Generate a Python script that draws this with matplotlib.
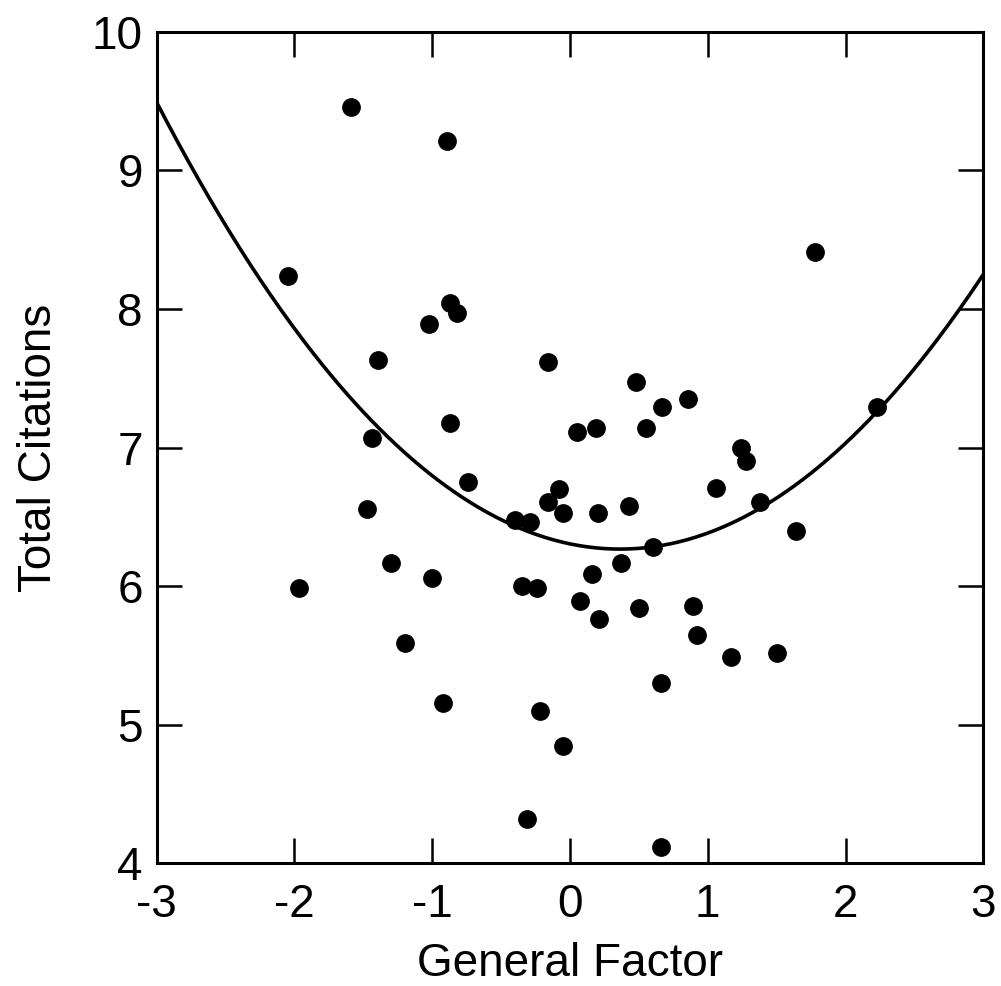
import numpy as np
import matplotlib
matplotlib.use("Agg")
import matplotlib.pyplot as plt

plt.rcParams['font.family'] = ['Liberation Sans', 'DejaVu Sans']
plt.rcParams['axes.unicode_minus'] = False

# Data
general_factor = [
    -1.59, -0.89, -2.05, 1.78, -0.87, -0.82, -1.02, -1.39, -0.16, 0.48,
    0.67, 0.86, 2.23, -0.87, 0.05, 0.19, 0.55, -1.44, 1.24, 1.28,
    -0.74, 1.06, 1.38, -1.47, -0.40, -0.29, -0.08, -0.16, -0.05, 0.20,
    0.43, 1.64, 0.60, 0.37, 0.16, -0.35, -0.24, -1.97, 0.07, 0.21,
    0.50, 0.89, 0.92, 1.17, 1.50, 0.66, -0.22, -0.05, -0.31, 0.66,
    -1.30, -1.00, -1.20, -0.92,
]
total_citations = [
    9.46, 9.21, 8.24, 8.41, 8.04, 7.97, 7.89, 7.63, 7.62, 7.47,
    7.29, 7.35, 7.29, 7.18, 7.11, 7.14, 7.14, 7.07, 7.00, 6.90,
    6.75, 6.71, 6.61, 6.56, 6.48, 6.46, 6.70, 6.61, 6.53, 6.53,
    6.58, 6.40, 6.28, 6.17, 6.09, 6.00, 5.99, 5.99, 5.89, 5.76,
    5.84, 5.86, 5.65, 5.49, 5.52, 5.30, 5.10, 4.85, 4.32, 4.12,
    6.17, 6.06, 5.59, 5.16,
]
# quadratic fit coefficients (a, b, c) for y = a x^2 + b x + c
fit_coef = [0.285, -0.207, 6.305]

x_ticks = [-3, -2, -1, 0, 1, 2, 3]
y_ticks = [4, 5, 6, 7, 8, 9, 10]

fig = plt.figure(figsize=(10.01, 9.86), dpi=100)
ax = fig.add_axes([0.1565, 0.1244, 0.8258, 0.8434])

xs = np.linspace(-3, 3, 400)
ax.plot(xs, np.polyval(fit_coef, xs), color='black', lw=2.6, zorder=2)
ax.plot(general_factor, total_citations, 'o', color='black', ms=12.5,
        mec='black', zorder=3)

ax.set_xlim(-3, 3)
ax.set_ylim(4, 10)
ax.set_xticks(x_ticks)
ax.set_yticks(y_ticks)
ax.set_xticklabels([str(t) for t in x_ticks])
ax.set_yticklabels([str(t) for t in y_ticks])

for s in ax.spines.values():
    s.set_linewidth(2.2)
ax.tick_params(direction='in', length=18, width=1.8, top=True, right=True,
               labelsize=33, pad=14)
ax.tick_params(axis='y', pad=10)

ax.set_xlabel('General Factor', fontsize=33, labelpad=11)
ax.set_ylabel('Total Citations', fontsize=33, labelpad=22)

fig.savefig('out.png', dpi=100, facecolor='white')
